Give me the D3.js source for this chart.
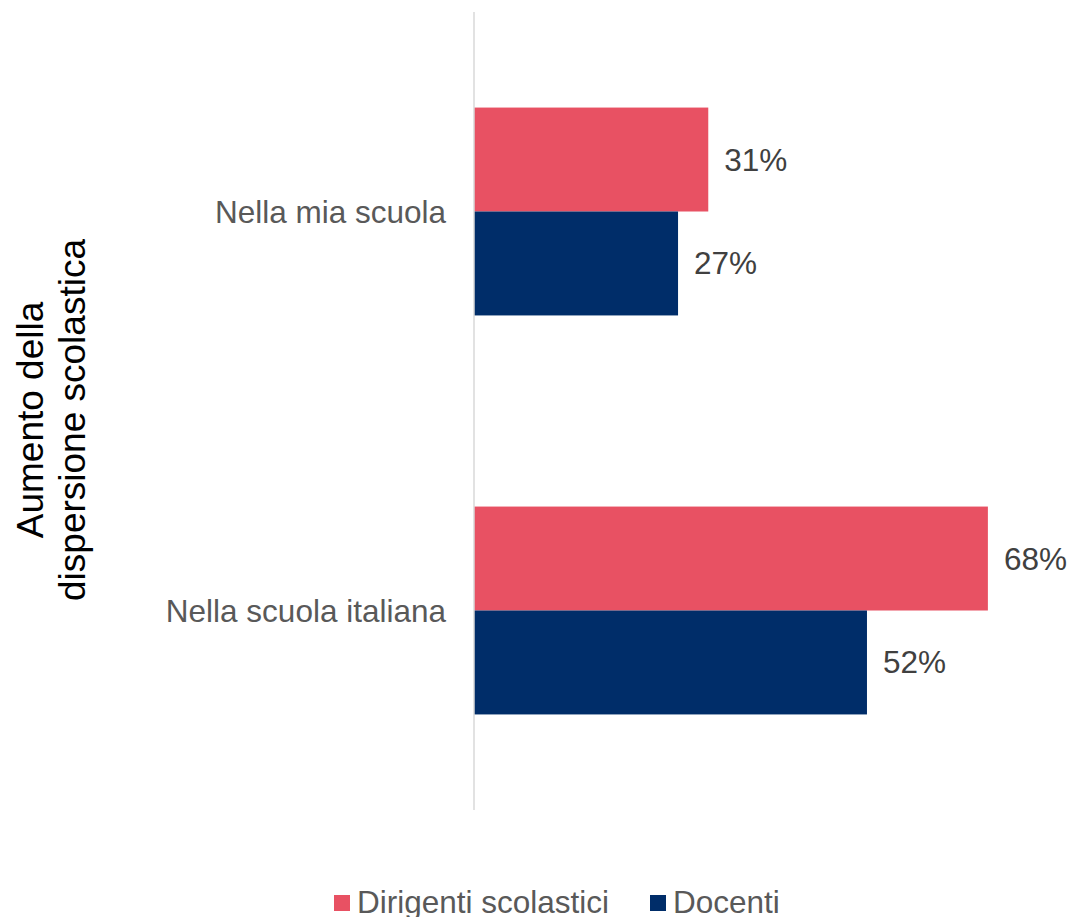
<!DOCTYPE html>
<html>
<head>
<meta charset="utf-8">
<script src="https://cdn.jsdelivr.net/npm/d3@7"></script>
<style>
	body { margin: 0; background: #fff; }
	text { font-family: "Liberation Sans", Arial, sans-serif; }
</style>
</head>
<body>
<div id="chart"></div>
<script>
// data
const categories = ["Nella mia scuola", "Nella scuola italiana"];
const seriesNames = ["Dirigenti scolastici", "Docenti"];
const dirigenti = [0.31, 0.68];
const docenti = [0.27, 0.52];
const yTitle = ["Aumento della", "dispersione scolastica"];

const colors = ["#E85163", "#002D69"];
const W = 1068, H = 917;

const svg = d3.select("#chart").append("svg")
	.attr("width", W).attr("height", H);

//-----------------------------------
const x = d3.scaleLinear().domain([0, 0.7]).range([474, 474 + 529]);
const y = d3.scaleBand().domain(categories).range([12, 810])
	.paddingInner(0.479).paddingOuter(0.2395);
const ySub = d3.scaleBand().domain([0, 1]).range([0, y.bandwidth()]);

const rows = categories.map((c, i) => ({ cat: c, vals: [dirigenti[i], docenti[i]] }));

const g = svg.append("g");
const groups = g.selectAll("g.cat").data(rows).join("g")
	.attr("transform", d => "translate(0," + y(d.cat) + ")");

groups.selectAll("rect").data(d => d.vals).join("rect")
	.attr("x", x(0))
	.attr("y", (d, i) => ySub(i))
	.attr("width", d => x(d) - x(0))
	.attr("height", ySub.bandwidth())
	.attr("fill", (d, i) => colors[i]);

groups.selectAll("text.val").data(d => d.vals).join("text")
	.attr("class", "val")
	.attr("x", d => x(d) + 16)
	.attr("y", (d, i) => ySub(i) + ySub.bandwidth() / 2)
	.attr("dy", "0.35em")
	.attr("font-size", 31.5)
	.attr("fill", "#404040")
	.text(d => Math.round(d * 100) + "%");

// axis line
svg.append("line")
	.attr("x1", x(0)).attr("x2", x(0))
	.attr("y1", 12).attr("y2", 810)
	.attr("stroke", "#d9d9d9").attr("stroke-width", 1.5);

// category labels
svg.selectAll("text.cat").data(categories).join("text")
	.attr("class", "cat")
	.attr("x", 446)
	.attr("y", d => y(d) + y.bandwidth() / 2)
	.attr("dy", "0.35em")
	.attr("text-anchor", "end")
	.attr("font-size", 31.5)
	.attr("fill", "#595959")
	.text(d => d);

// y title
const yt = svg.append("text")
	.attr("transform", "translate(30,420) rotate(-90)")
	.attr("text-anchor", "middle")
	.attr("font-size", 37)
	.attr("fill", "#000");
yt.selectAll("tspan").data(yTitle).join("tspan")
	.attr("x", 0)
	.attr("dy", (d, i) => i === 0 ? "0.35em" : 42)
	.text(d => d);

// legend
const legX = [334, 650];
const leg = svg.selectAll("g.leg").data(seriesNames).join("g")
	.attr("class", "leg")
	.attr("transform", (d, i) => "translate(" + legX[i] + ",895)");
leg.append("rect").attr("width", 16).attr("height", 16)
	.attr("fill", (d, i) => colors[i]);
leg.append("text")
	.attr("x", 23).attr("y", 18)
	.attr("font-size", 31.5)
	.attr("fill", "#595959")
	.text(d => d);
</script>
</body>
</html>
